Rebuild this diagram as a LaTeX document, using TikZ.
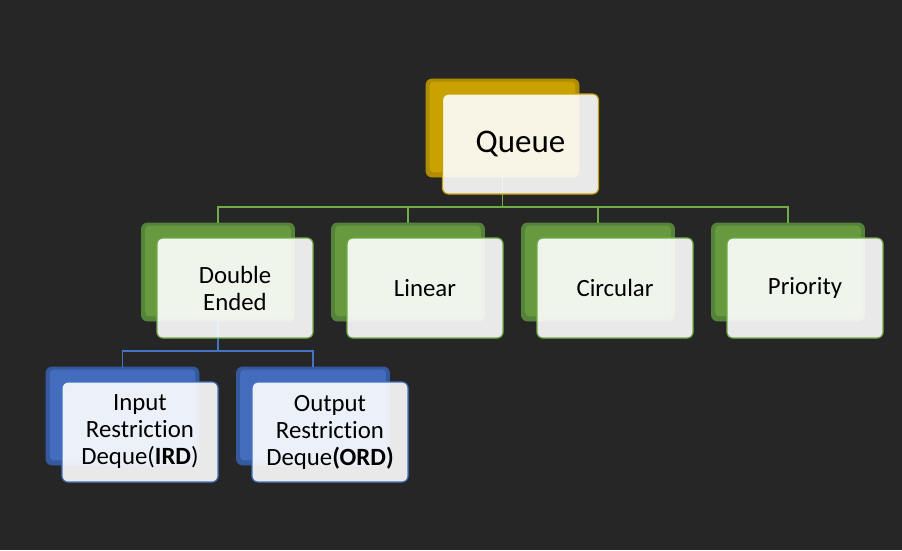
\documentclass[tikz,border=0pt]{standalone}
\usepackage{fontspec}
\setmainfont[Ligatures=NoCommon]{Carlito}
\begin{document}
\begin{tikzpicture}[x=1pt,y=-1pt,
  back/.style={rounded corners=6pt, minimum width=153pt, minimum height=98pt, line width=0.8pt, inner sep=0pt},
  front/.style={rounded corners=6pt, minimum width=156pt, minimum height=100pt, fill=white, fill opacity=0.9, text opacity=1, line width=1.2pt, align=center, inner sep=0pt},
  goldback/.style={back, fill=goldd, draw=goldd},
  greenback/.style={back, fill=greend, draw=greend},
  blueback/.style={back, fill=blued, draw=blued},
  goldfront/.style={front, draw=goldc, font=\fontsize{33}{38}\selectfont},
  greenfront/.style={front, draw=greenl, font=\fontsize{24.8}{27}\selectfont},
  bluefront/.style={front, draw=bluel, font=\fontsize{24.8}{27}\selectfont},
  gline/.style={draw=greenl, line width=1.5pt},
  bline/.style={draw=bluel, line width=1.5pt},
  inset/.style={rounded corners=4pt}
]
\definecolor{bgc}{HTML}{262626}
\definecolor{goldc}{HTML}{C9A200}
\definecolor{goldd}{HTML}{AF8C00}
\definecolor{greenc}{HTML}{67993F}
\definecolor{greend}{HTML}{55833A}
\definecolor{greenl}{HTML}{70AD47}
\definecolor{bluec}{HTML}{446CBC}
\definecolor{blued}{HTML}{34599F}
\definecolor{bluel}{HTML}{4472C4}
\fill[bgc] (0,0) rectangle (902,550);
\useasboundingbox (0,0) rectangle (902,550);

\coordinate (bus1) at (0,207);
\coordinate (bus2) at (0,351);

% back boxes
\node[goldback] (qb) at (502.5,128) {};
\node[greenback] (db) at (218,272) {};
\node[greenback] (lb) at (408,272) {};
\node[greenback] (cb) at (598,272) {};
\node[greenback] (pb) at (788,272) {};
\node[blueback] (ib) at (122.5,416) {};
\node[blueback] (ob) at (313,416) {};
\foreach \n/\c in {qb/goldc, db/greenc, lb/greenc, cb/greenc, pb/greenc, ib/bluec, ob/bluec}
  \fill[inset, \c] ([shift={(4,3)}]\n.north west) rectangle ([shift={(-4,-5)}]\n.south east);

% connectors
\draw[gline] (qb.south) -- (qb.south |- bus1);
\draw[gline] (db.north) |- (pb.north |- bus1) -- (pb.north);
\draw[gline] (lb.north) -- (lb.north |- bus1);
\draw[gline] (cb.north) -- (cb.north |- bus1);
\draw[bline] (db.south) -- (db.south |- bus2);
\draw[bline] (ib.north) |- (ob.north |- bus2) -- (ob.north);

% front boxes
\node[goldfront] (q) at (520.5,144) {Queue};
\node[greenfront] (d) at (235,288) {Double\\Ended};
\node[greenfront] (l) at (425,288) {Linear};
\node[greenfront] (c) at (615,288) {Circular};
\node[greenfront] (p) at (805,288) {Priority};
\node[bluefront] (i) at (140,432) {Input\\Restriction\\Deque(\textbf{IRD})};
\node[bluefront] (o) at (330,432) {Output\\Restriction\\Deque\textbf{(ORD)}};
\end{tikzpicture}
\end{document}
